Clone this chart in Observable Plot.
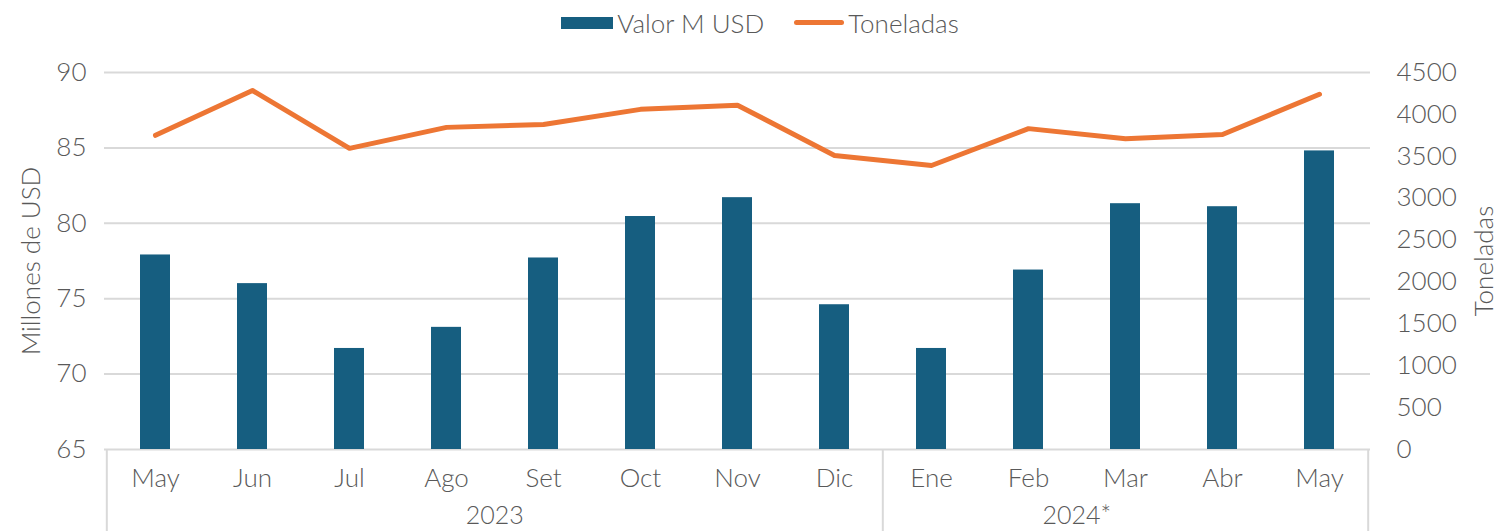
<!DOCTYPE html>
<html><head><meta charset="utf-8">
<script src="https://cdn.jsdelivr.net/npm/d3@7"></script>
<script src="https://cdn.jsdelivr.net/npm/@observablehq/plot@0.6"></script>
<style>
body{margin:0;background:#fff;font-family:Lato,"Open Sans",sans-serif;font-weight:300;color:#595959}
#legend{height:45px;display:flex;justify-content:center;align-items:center;gap:30px;font-size:26px;padding-left:8px;box-sizing:border-box}
.li{display:flex;align-items:center;gap:4px}
.sw{display:inline-block}
svg text{font-family:Lato,"Open Sans",sans-serif;font-weight:300}
</style></head>
<body>
<div id="legend">
 <span class="li"><span class="sw" style="width:52px;height:12px;background:#165E80"></span>Valor M USD</span>
 <span class="li"><span class="sw" style="width:50px;height:5px;border-radius:3px;background:#ED7634"></span>Toneladas</span>
</div>
<div id="chart"></div>
<script>
const months = ["May","Jun","Jul","Ago","Set","Oct","Nov","Dic","Ene","Feb","Mar","Abr","May"];
const years  = ["2023","2023","2023","2023","2023","2023","2023","2023","2024*","2024*","2024*","2024*","2024*"];
const valor  = [77.9,76.0,71.7,73.1,77.7,80.45,81.7,74.6,71.7,76.9,81.3,81.1,84.8];
const toneladas = [3750,4285,3595,3845,3880,4060,4110,3510,3390,3830,3710,3760,4240];
const leftTicks = [65,70,75,80,85,90];
const rightTicks = [0,500,1000,1500,2000,2500,3000,3500,4000,4500];
const yearLabels = [{key:"2023|4", label:"2023"},{key:"2024*|10", label:"2024*"}];

const Y0 = 65, Y1 = 90, T1 = 4500;
const toLeft = t => Y0 + t / T1 * (Y1 - Y0);
const keys = months.map((m,i)=> years[i] + "|" + i);
const data = months.map((m,i)=>({key:keys[i], month:m, valor:valor[i], ton:toneladas[i], tl:toLeft(toneladas[i])}));

const W = 1512, H = 486, mL = 104, mR = 142, mT = 27, mB = 82;
const step = (W - mL - mR) / keys.length;
const pxPerUnit = (H - mT - mB) / (Y1 - Y0);
const below = Y0 - mB / pxPerUnit;
const grey = "#595959";
const fs = 26;

const chart = Plot.plot({
  width: W, height: H,
  marginLeft: mL, marginRight: mR, marginTop: mT, marginBottom: mB,
  style: {fontSize: fs + "px", color: grey, background: "#fff"},
  x: {domain: keys, paddingInner: 0.69, paddingOuter: 0.345, align: 0.5, axis: null},
  y: {domain: [Y0, Y1], axis: null},
  marks: [
    Plot.ruleY(leftTicks.slice(1), {stroke: "#d9d9d9", strokeWidth: 2}),
    Plot.ruleY([Y0], {stroke: "#d9d9d9", strokeWidth: 2}),
    Plot.barY(data, {x: "key", y1: Y0, y2: "valor", fill: "#165E80"}),
    Plot.line(data, {x: "key", y: "tl", stroke: "#ED7634", strokeWidth: 5, strokeLinejoin: "round", strokeLinecap: "round"}),
    Plot.axisY(leftTicks, {anchor: "left", tickSize: 0, tickPadding: 18, fontSize: fs, fill: grey,
      label: "Millones de USD", labelArrow: false, labelAnchor: "center", labelOffset: 83}),
    Plot.axisY(rightTicks.map(toLeft), {anchor: "right", tickSize: 0, tickPadding: 26, fontSize: fs, fill: grey,
      tickFormat: d => String(Math.round((d - Y0) / (Y1 - Y0) * T1)), textAnchor: "start",
      label: "Toneladas", labelArrow: false, labelAnchor: "center", labelOffset: 122}),
    Plot.text(data, {x: "key", y: Y0, text: "month", dy: 29, fontSize: fs, fill: grey}),
    Plot.text(yearLabels, {x: "key", y: Y0, text: "label", dx: -step/2, dy: 66, fontSize: 25, fill: grey}),
    Plot.ruleX([keys[0], keys[8]], {x: d => d, y1: Y0, y2: below, dx: -step/2, stroke: "#d9d9d9", strokeWidth: 2}),
    Plot.ruleX([keys[12]], {x: d => d, y1: Y0, y2: below, dx: step/2, stroke: "#d9d9d9", strokeWidth: 2})
  ]
});
document.getElementById("chart").appendChild(chart);
</script>
</body></html>
